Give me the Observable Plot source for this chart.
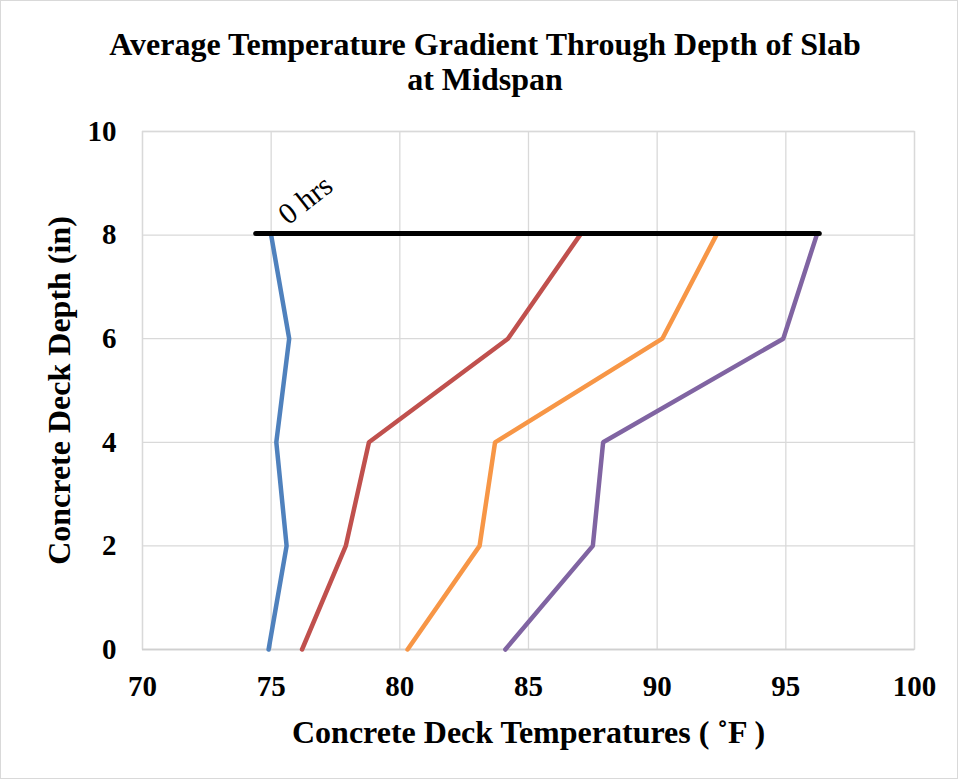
<!DOCTYPE html>
<html>
<head>
<meta charset="utf-8">
<script src="https://cdn.jsdelivr.net/npm/d3@7"></script>
<script src="https://cdn.jsdelivr.net/npm/@observablehq/plot@0.6"></script>
<style>
  html, body { margin: 0; padding: 0; background: #fff; }
  #wrap { width: 958px; height: 779px; box-sizing: border-box; border: 1px solid #d9d9d9; overflow: hidden; font-family: "Liberation Serif", "Times New Roman", serif; }
  #title { height: 104px; box-sizing: border-box; padding-top: 26px; padding-left: 12px; text-align: center; font-weight: bold; font-size: 32px; line-height: 35px; color: #000; }
  #chart svg { display: block; }
  #chart g[aria-label="x-axis tick label"] text, #chart g[aria-label="y-axis tick label"] text { font-weight: bold; font-size: 29px; }
</style>
</head>
<body>
<div id="wrap">
  <div id="title">Average Temperature Gradient Through Depth of Slab<br>at Midspan</div>
  <div id="chart"></div>
</div>
<script>
// Depth positions (in)
const depths = [0, 2, 4, 6, 8];
// Temperatures (°F) per series, listed in the same order as depths
const seriesNames = ["0 hrs", "Series 2", "Series 3", "Series 4"];
const temps0 = [74.9, 75.6, 75.2, 75.7, 75.0];
const temps1 = [76.2, 77.9, 78.8, 84.2, 87.0];
const temps2 = [80.3, 83.1, 83.7, 90.2, 92.3];
const temps3 = [84.1, 87.5, 87.9, 94.9, 96.2];
const seriesColors = ["#4F81BD", "#C0504D", "#F79646", "#8064A2"];
// Slab top surface line
const surfaceTemps = [74.4, 96.3];
const surfaceDepth = 8.03;
// Axis ticks
const xTicks = [70, 75, 80, 85, 90, 95, 100];
const yTicks = [0, 2, 4, 6, 8, 10];
const xLabel = "Concrete Deck Temperatures ( \u02DAF )";
const yLabel = "Concrete Deck Depth (in)";

const allTemps = [temps0, temps1, temps2, temps3];
const rows = [];
allTemps.forEach((arr, i) => arr.forEach((t, j) => rows.push({series: seriesNames[i], temp: t, depth: depths[j]})));
const surface = surfaceTemps.map(t => ({temp: t, depth: surfaceDepth}));
const labelRow = [{series: seriesNames[0], temp: temps0[4], depth: depths[4], text: "0 hrs"}];

const chart = Plot.plot({
  width: 956,
  height: 671,
  marginLeft: 141,
  marginRight: 43,
  marginTop: 26,
  marginBottom: 127,
  style: {fontFamily: "Liberation Serif, Times New Roman, serif", color: "#000", background: "#fff"},
  x: {domain: [70, 100], ticks: xTicks},
  y: {domain: [0, 10], ticks: yTicks},
  color: {domain: seriesNames, range: seriesColors},
  marks: [
    Plot.gridX(xTicks, {stroke: "#d9d9d9", strokeOpacity: 1, strokeWidth: 1.3}),
    Plot.gridY(yTicks, {stroke: "#d9d9d9", strokeOpacity: 1, strokeWidth: 1.3}),
    Plot.frame({stroke: "#d9d9d9", strokeWidth: 1.3}),
    Plot.ruleY([0], {stroke: "#d0d0d0", strokeWidth: 1.5}),
    Plot.axisX({ticks: xTicks, tickSize: 0, tickPadding: 26, label: null, fontSize: 29}),
    Plot.axisY({ticks: yTicks, tickSize: 0, tickPadding: 26, label: null, fontSize: 29}),
    Plot.line(rows, {x: "temp", y: "depth", z: "series", stroke: "series", strokeWidth: 4.5, strokeLinejoin: "miter"}),
    Plot.line(surface, {x: "temp", y: "depth", stroke: "#000", strokeWidth: 5}),
    Plot.text(labelRow, {x: "temp", y: "depth", text: "text", textAnchor: "start", dx: 11, dy: -17, rotate: -38, fontSize: 30, fill: "#000"}),
    Plot.text([xLabel], {frameAnchor: "bottom", textAnchor: "middle", lineAnchor: "middle", dy: 83, fontSize: 32, fontWeight: "bold", fill: "#000"}),
    Plot.text([yLabel], {frameAnchor: "left", textAnchor: "middle", lineAnchor: "middle", dx: -83, rotate: -90, fontSize: 32, fontWeight: "bold", fill: "#000"})
  ]
});
document.getElementById("chart").appendChild(chart);
</script>
</body>
</html>
